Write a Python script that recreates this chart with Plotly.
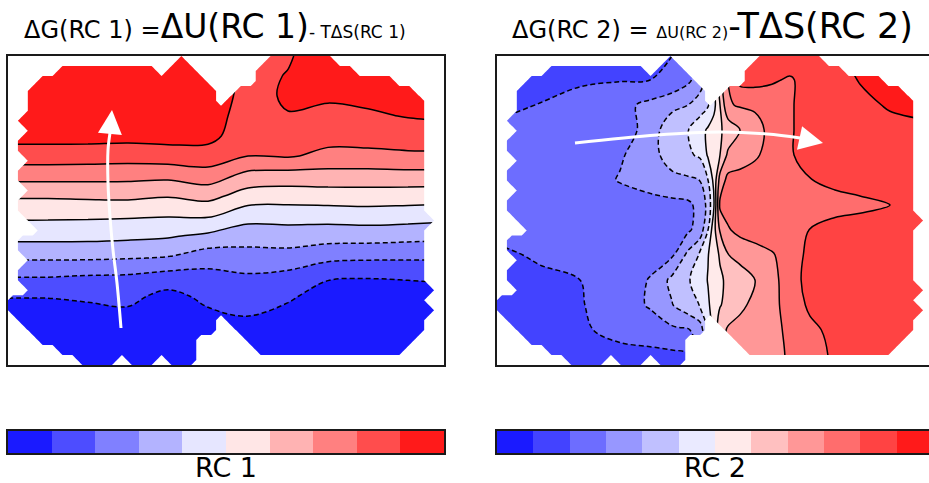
import numpy as np
import plotly.graph_objects as go

W, H = 929, 483

# ---------------- data: panel 1 (RC 1) ----------------
RC1_X = [0, 40, 80, 120, 160, 200, 240, 280, 320, 360, 400, 440]
RC1_Y = [0, 20, 40, 60, 80, 100, 120, 140, 160, 180, 200, 220, 240, 260, 280, 300, 320]
RC1_Z = [
    [5.8, 5.8, 5.8, 5.8, 5.8, 5.8, 4.7, 4.9, 5.6, 5.6, 5.7, 5.75],
    [5.8, 5.8, 5.8, 5.8, 5.8, 5.8, 4.7, 5.05, 5.4, 5.45, 5.5, 5.55],
    [5.7, 5.7, 5.7, 5.7, 5.7, 5.7, 4.6, 5.15, 5.15, 5.25, 5.3, 5.35],
    [5.6, 5.6, 5.6, 5.6, 5.6, 5.5, 4.5, 4.95, 4.73, 4.86, 5.05, 5.15],
    [5.35, 5.35, 5.35, 5.3, 5.35, 5.3, 4.4, 4.6, 4.33, 4.38, 4.49, 4.55],
    [4.5, 4.5, 4.47, 4.43, 4.54, 4.57, 4.0, 4.1, 3.75, 3.75, 3.82, 3.82],
    [3.35, 3.35, 3.33, 3.3, 3.24, 3.53, 2.67, 2.56, 2.58, 2.58, 2.62, 2.6],
    [2.12, 2.12, 2.18, 2.22, 2.06, 2.31, 1.56, 1.47, 1.53, 1.55, 1.5, 1.45],
    [1.18, 1.18, 1.15, 1.11, 1.05, 1.12, 0.38, 0.39, 0.41, 0.5, 0.44, 0.35],
    [0.3, 0.3, 0.29, 0.22, 0.1, -0.2, -0.56, -0.48, -0.59, -0.58, -0.67, -0.78],
    [-0.76, -0.76, -0.76, -0.83, -0.95, -1.5, -1.36, -1.35, -1.65, -1.75, -1.78, -1.8],
    [-1.94, -1.94, -2.04, -2.09, -2.35, -2.28, -2.09, -2.26, -2.88, -2.94, -2.89, -2.8],
    [-2.95, -2.95, -2.84, -2.72, -3.3, -2.74, -2.53, -2.85, -3.4, -3.4, -3.4, -3.35],
    [-3.4, -3.4, -3.35, -3.25, -3.6, -3.2, -2.98, -3.3, -3.7, -3.7, -3.7, -3.65],
    [-3.7, -3.7, -3.7, -3.6, -3.8, -3.5, -3.4, -3.6, -3.85, -3.85, -3.85, -3.8],
    [-3.8, -3.8, -3.8, -3.8, -3.85, -3.7, -3.6, -3.75, -3.9, -3.9, -3.85, -3.8],
    [-3.85, -3.85, -3.85, -3.85, -3.85, -3.75, -3.7, -3.8, -3.9, -3.9, -3.85, -3.8],
]
RC1_LEVELS = [-4, -3, -2, -1, 0, 1, 2, 3, 4, 5, 6]
RC1_COLORS = ["#1a1aff", "#4d4dff", "#8080ff", "#b3b3ff", "#e6e6ff",
              "#ffe6e6", "#ffb3b3", "#ff8080", "#ff4d4d", "#ff1a1a"]

# ---------------- data: panel 2 (RC 2) ----------------
RC2_X = [0, 43, 83, 123, 153, 175, 191, 203, 211, 217, 223, 231, 243, 258, 275, 293, 313, 338, 363, 393, 438]
RC2_Y = [0, 24, 49, 74, 99, 124, 149, 174, 199, 224, 249, 274, 299, 324]
RC2_Z = [
    [-4.6, -4.6, -4.5, -4.4, -4.2, -4.0, -3.2, -2.2, -1.2, 0.0, 1.2, 2.5, 3.8, 4.3, 4.4, 4.5, 4.6, 4.85, 5.3, 5.5, 5.6],
    [-4.5, -4.4, -4.15, -4.05, -4.0, -3.7, -3.2, -2.5, -1.5, 0.0, 1.5, 3.0, 4.3, 4.35, 4.1, 3.9, 4.35, 4.6, 5.05, 5.3, 5.5],
    [-4.6, -3.95, -3.6, -3.3, -2.75, -2.35, -2.0, -1.5, -1.1, -0.3, 1.0, 2.9, 3.1, 3.15, 3.5, 3.9, 4.4, 4.5, 4.75, 5.1, 5.4],
    [-3.6, -3.55, -3.5, -3.4, -2.7, -1.16, -1.03, -0.4, 0.15, 0.5, 0.9, 1.3, 2.0, 2.65, 3.3, 3.9, 4.4, 4.45, 4.6, 4.7, 4.8],
    [-3.6, -3.55, -3.5, -3.1, -2.5, -1.4, -1.15, -0.85, 0.12, 0.5, 1.0, 2.2, 2.4, 2.85, 3.4, 3.9, 4.4, 4.4, 4.5, 4.55, 4.6],
    [-3.6, -3.55, -3.5, -2.94, -2.6, -2.35, -2.15, -1.98, -1.0, 0.3, 2.4, 3.3, 3.45, 3.5, 3.6, 3.75, 3.97, 4.2, 4.35, 4.45, 4.5],
    [-3.6, -3.55, -3.5, -3.45, -3.35, -3.25, -3.2, -2.7, -1.7, 0.0, 3.2, 3.4, 3.45, 3.5, 3.5, 3.55, 3.6, 3.7, 3.8, 4.0, 4.3],
    [-3.6, -3.55, -3.5, -3.45, -3.35, -3.25, -3.15, -2.6, -1.0, 0.7, 2.1, 2.9, 3.3, 3.5, 3.6, 3.75, 4.02, 4.3, 4.4, 4.45, 4.5],
    [-4.3, -3.8, -3.6, -3.45, -3.3, -3.15, -1.75, -0.85, -0.05, 0.6, 1.1, 1.97, 2.25, 2.55, 2.9, 3.5, 4.25, 4.4, 4.5, 4.55, 4.6],
    [-4.5, -4.3, -4.0, -3.5, -2.95, -1.75, -1.1, -0.5, 0.05, 0.4, 0.85, 1.2, 1.6, 2.0, 2.7, 3.5, 4.4, 4.5, 4.55, 4.6, 4.6],
    [-4.6, -4.4, -4.07, -3.5, -2.9, -2.05, -1.35, -0.95, -0.15, 0.45, 0.95, 1.25, 1.75, 2.3, 2.75, 3.35, 4.2, 4.45, 4.5, 4.55, 4.6],
    [-4.6, -4.5, -4.15, -3.7, -3.5, -3.2, -3.1, -2.5, -1.0, 0.5, 1.5, 2.15, 2.4, 2.6, 2.8, 3.15, 3.75, 4.3, 4.45, 4.5, 4.55],
    [-4.7, -4.6, -4.5, -4.3, -4.25, -4.2, -4.1, -3.0, -1.5, 0.0, 1.5, 2.2, 2.4, 2.55, 2.75, 3.1, 3.5, 4.2, 4.4, 4.5, 4.5],
    [-4.7, -4.6, -4.5, -4.4, -4.3, -4.25, -4.2, -3.0, -1.5, 0.0, 1.5, 2.2, 2.4, 2.55, 2.75, 3.1, 3.5, 4.2, 4.4, 4.5, 4.5],
]
RC2_LEVELS = [-6, -5, -4, -3, -2, -1, 0, 1, 2, 3, 4, 5, 6]
RC2_COLORS = ["#1a1aff", "#4343ff", "#6d6dff", "#9797ff", "#c0c0ff", "#eaeaff",
              "#ffeaea", "#ffc0c0", "#ff9797", "#ff6d6d", "#ff4343", "#ff1a1a"]

# sampled region (same for both maps): inclusive column ranges per row, 44 cols x 31 rows
MASK_NC, MASK_NR = 44, 31
MASK_RANGES = [
    [(17, 17), (26, 32)],
    [(5, 14), (16, 18), (25, 34)],
    [(3, 19), (25, 38)],
    [(2, 20), (23, 40)],
    [(2, 20), (22, 41)],
    [(2, 41)], [(1, 41)], [(2, 41)], [(1, 41)], [(1, 41)], [(2, 41)],
    [(1, 41)], [(1, 41)], [(2, 41)], [(1, 41)], [(1, 41)], [(2, 42)],
    [(3, 41)], [(1, 41)], [(1, 41)], [(2, 41)], [(1, 41)], [(1, 41)],
    [(2, 42)], [(0, 41)], [(0, 42)],
    [(1, 20), (22, 41)],
    [(2, 20), (23, 41)],
    [(3, 18), (24, 40)],
    [(5, 18), (25, 39)],
    [(7, 10), (12, 14), (16, 18)],
]

# guide arrows (local frame coordinates)
ARROW1_X = [113, 109, 105, 102, 100, 100, 102]
ARROW1_Y = [272, 227, 194, 161, 127, 94, 77]
ARROW1_HEAD = (104, 54)
ARROW2_X = [78, 160, 223, 270, 303]
ARROW2_Y = [87, 79, 76, 78, 82]
ARROW2_HEAD = (326, 87)

FRAME_W, FRAME_H = 436, 309


def stepped(colors):
    n = len(colors)
    cs = []
    for k, c in enumerate(colors):
        lo = max(0.0, (k - 0.5) / (n - 1))
        hi = min(1.0, (k + 0.5) / (n - 1))
        cs.append([lo, c])
        cs.append([hi, c])
    return cs


mask = np.ones((MASK_NR, MASK_NC))
for r, ranges in enumerate(MASK_RANGES):
    for a, b in ranges:
        mask[r, a:b + 1] = 0
cw, ch = FRAME_W / MASK_NC, FRAME_H / MASK_NR
mask_x = [-cw / 2] + [(c + 0.5) * cw for c in range(MASK_NC)] + [FRAME_W + cw / 2]
mask_y = [-ch / 2] + [(r + 0.5) * ch for r in range(MASK_NR)] + [FRAME_H + ch / 2]
mask_p = np.pad(mask, 1, constant_values=1)

fig = go.Figure()


def add_panel(xs, ys, z, levels, colors, xa, ya):
    step = levels[1] - levels[0]
    fig.add_trace(go.Contour(
        x=xs, y=ys, z=z, xaxis=xa, yaxis=ya, autocontour=False,
        contours=dict(start=levels[1], end=levels[-2], size=step, coloring="fill", showlines=False),
        colorscale=stepped(colors), showscale=False, line=dict(width=0), hoverinfo="skip"))
    inner = levels[1:-1]
    neg = [l for l in inner if l < 0]
    pos = [l for l in inner if l >= 0]
    for lv, dash in ((neg, "5px,3px"), (pos, "solid")):
        fig.add_trace(go.Contour(
            x=xs, y=ys, z=z, xaxis=xa, yaxis=ya, autocontour=False,
            contours=dict(start=min(lv), end=max(lv), size=step, coloring="none"),
            line=dict(color="black", width=1.5, dash=dash), showscale=False, hoverinfo="skip"))
    # white-out everything outside the sampled region (plotly shades the infeasible side)
    fig.add_trace(go.Contour(
        x=mask_x, y=mask_y, z=mask_p, xaxis=xa, yaxis=ya,
        contours=dict(type="constraint", operation="<", value=0.5),
        fillcolor="white", line=dict(width=0, smoothing=0), showscale=False, hoverinfo="skip"))


add_panel(RC1_X, RC1_Y, RC1_Z, RC1_LEVELS, RC1_COLORS, "x", "y")
add_panel(RC2_X, RC2_Y, RC2_Z, RC2_LEVELS, RC2_COLORS, "x2", "y2")

for ax_x, ay_y, ys in ((ARROW1_X, ARROW1_Y, ("x", "y")), (ARROW2_X, ARROW2_Y, ("x2", "y2"))):
    fig.add_trace(go.Scatter(x=ax_x, y=ay_y, xaxis=ys[0], yaxis=ys[1], mode="lines",
                             line=dict(color="white", width=3, shape="spline"),
                             hoverinfo="skip", showlegend=False))

# colour bars
fig.add_trace(go.Heatmap(z=[list(range(len(RC1_COLORS)))], colorscale=stepped(RC1_COLORS),
                         zmin=0, zmax=len(RC1_COLORS) - 1, showscale=False,
                         xaxis="x3", yaxis="y3", hoverinfo="skip"))
fig.add_trace(go.Heatmap(z=[list(range(len(RC2_COLORS)))], colorscale=stepped(RC2_COLORS),
                         zmin=0, zmax=len(RC2_COLORS) - 1, showscale=False,
                         xaxis="x4", yaxis="y4", hoverinfo="skip"))

ax = dict(showgrid=False, zeroline=False, showticklabels=False, ticks="",
          showline=True, linecolor="#1a1a1a", linewidth=1.5, fixedrange=True)
pan_y = [(H - 365) / H, (H - 56) / H]
cb_y = [(H - 453) / H, (H - 431) / H]
d1 = [8 / W, 444 / W]
d2 = [497 / W, 1.0]
vis2 = (W - 497) / FRAME_W
fig.update_layout(
    width=W, height=H, margin=dict(l=0, r=0, t=0, b=0),
    paper_bgcolor="white", plot_bgcolor="white", showlegend=False,
    font=dict(family="DejaVu Sans", color="black"),
    xaxis=dict(domain=d1, range=[0, FRAME_W], mirror=True, anchor="y", **ax),
    yaxis=dict(domain=pan_y, range=[FRAME_H, 0], mirror=True, anchor="x", **ax),
    xaxis2=dict(domain=d2, range=[0, FRAME_W * vis2], mirror=True, anchor="y2", **ax),
    yaxis2=dict(domain=pan_y, range=[FRAME_H, 0], mirror=False, anchor="x2", **ax),
    xaxis3=dict(domain=d1, range=[-0.5, len(RC1_COLORS) - 0.5], mirror=True, anchor="y3", **ax),
    yaxis3=dict(domain=cb_y, range=[-0.5, 0.5], mirror=True, anchor="x3", **ax),
    xaxis4=dict(domain=d2, range=[-0.5, -0.5 + len(RC2_COLORS) * vis2], mirror=True, anchor="y4", **ax),
    yaxis4=dict(domain=cb_y, range=[-0.5, 0.5], mirror=False, anchor="x4", **ax),
)

ann = []
ann.append(dict(xref="paper", yref="paper", x=22 / W, y=(H - 48) / H, xanchor="left", yanchor="bottom",
                showarrow=False, font=dict(size=24),
                text='ΔG(RC 1) =<span style="font-size:33px">ΔU(RC 1)</span>'
                     '<span style="font-size:17px">- TΔS(RC 1)</span>'))
ann.append(dict(xref="paper", yref="paper", x=510 / W, y=(H - 48) / H, xanchor="left", yanchor="bottom",
                showarrow=False, font=dict(size=24),
                text='ΔG(RC 2) = <span style="font-size:16px">ΔU(RC 2)</span>'
                     '<span style="font-size:35px">-TΔS(RC 2)</span>'))
ann.append(dict(xref="paper", yref="paper", x=226 / W, y=(H - 467) / H, xanchor="center", yanchor="middle",
                showarrow=False, font=dict(size=27), text="RC 1"))
ann.append(dict(xref="paper", yref="paper", x=715 / W, y=(H - 467) / H, xanchor="center", yanchor="middle",
                showarrow=False, font=dict(size=27), text="RC 2"))
ann.append(dict(xref="x", yref="y", axref="x", ayref="y", x=ARROW1_HEAD[0], y=ARROW1_HEAD[1],
                ax=ARROW1_X[-1], ay=ARROW1_Y[-1], showarrow=True, arrowhead=2, arrowsize=1.6,
                arrowwidth=3, arrowcolor="white", text=""))
ann.append(dict(xref="x2", yref="y2", axref="x2", ayref="y2", x=ARROW2_HEAD[0], y=ARROW2_HEAD[1],
                ax=ARROW2_X[-1], ay=ARROW2_Y[-1], showarrow=True, arrowhead=2, arrowsize=1.6,
                arrowwidth=3, arrowcolor="white", text=""))
fig.update_layout(annotations=ann)

fig.write_html("out.html")
